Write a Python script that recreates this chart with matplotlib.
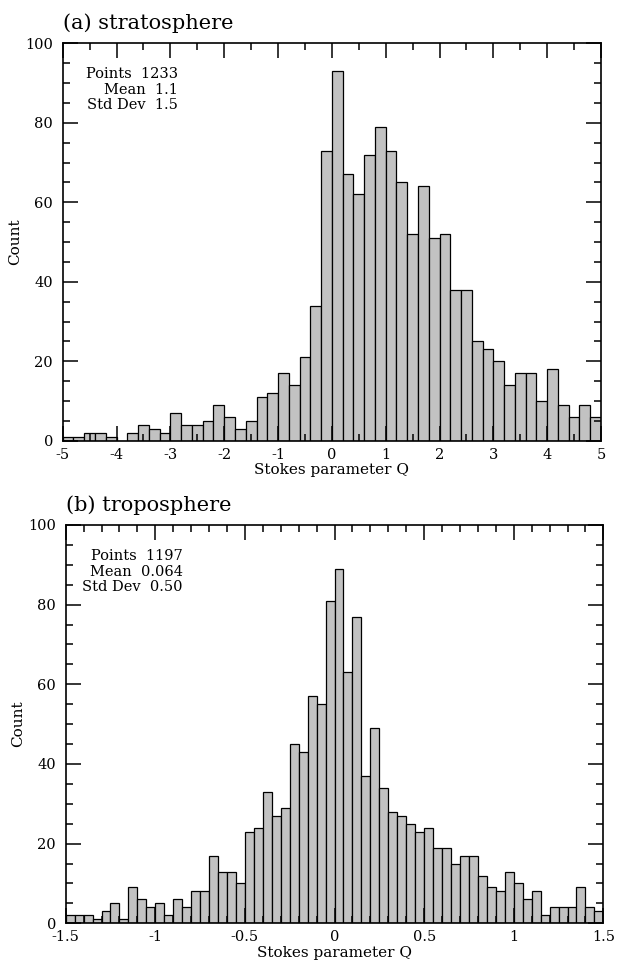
import numpy as np
import matplotlib
matplotlib.use("Agg")
import matplotlib.pyplot as plt
from matplotlib.ticker import MultipleLocator

# (a) stratosphere: 50 bins of width 0.2 from -5 to 5
strat_counts = [1, 1, 2, 2, 1, 0, 2, 4, 3, 2,
                7, 4, 4, 5, 9, 6, 3, 5, 11, 12,
                17, 14, 21, 34, 73, 93, 67, 62, 72, 79,
                73, 65, 52, 64, 51, 52, 38, 38, 25, 23,
                20, 14, 17, 17, 10, 18, 9, 6, 9, 6]
strat_range = (-5, 5)
strat_stats = "Points  1233\nMean  1.1\nStd Dev  1.5"

# (b) troposphere: 60 bins of width 0.05 from -1.5 to 1.5
trop_counts = [2, 2, 2, 1, 3, 5, 1, 9, 6, 4,
               5, 2, 6, 4, 8, 8, 17, 13, 13, 10,
               23, 24, 33, 27, 29, 45, 43, 57, 55, 81,
               89, 63, 77, 37, 49, 34, 28, 27, 25, 23,
               24, 19, 19, 15, 17, 17, 12, 9, 8, 13,
               10, 6, 8, 2, 4, 4, 4, 9, 4, 3]
trop_range = (-1.5, 1.5)
trop_stats = "Points  1197\nMean  0.064\nStd Dev  0.50"

plt.rcParams['font.family'] = ['DejaVu Serif']

fig = plt.figure(figsize=(6.18, 9.64), dpi=100)


def draw_hist(rect, counts, xr, major, minor, stats, title, text_xy):
    ax = fig.add_axes(rect)
    edges = np.linspace(xr[0], xr[1], len(counts) + 1)
    ax.bar(edges[:-1], counts, width=np.diff(edges), align='edge',
           color='#c2c2c2', edgecolor='black', linewidth=0.9)
    ax.set_xlim(xr)
    ax.set_ylim(0, 100)
    ax.xaxis.set_major_locator(MultipleLocator(major))
    ax.xaxis.set_minor_locator(MultipleLocator(minor))
    ax.yaxis.set_major_locator(MultipleLocator(20))
    ax.yaxis.set_minor_locator(MultipleLocator(5))
    ax.tick_params(which='both', direction='in', top=True, right=True,
                   width=1.1, labelsize=10.5)
    ax.tick_params(which='major', length=11)
    ax.tick_params(which='minor', length=5)
    ax.tick_params(axis='y', pad=7)
    ax.tick_params(axis='x', pad=5)
    for s in ax.spines.values():
        s.set_linewidth(1.2)
    ax.set_ylabel('Count', fontsize=11, labelpad=2)
    ax.set_xlabel('Stokes parameter Q', fontsize=11, labelpad=1)
    ax.text(text_xy[0], text_xy[1], stats, transform=ax.transAxes,
            ha='right', va='top', multialignment='right',
            fontsize=10.5, linespacing=1.15)
    ax.text(0.0, 1.025, title, transform=ax.transAxes, ha='left',
            va='bottom', fontsize=15)
    ax.xaxis.set_major_formatter(
        matplotlib.ticker.FuncFormatter(lambda v, p: ('%g' % v)))
    return ax


draw_hist([0.1015, 0.5428, 0.871, 0.4123], strat_counts, strat_range,
          1, 0.5, strat_stats, '(a) stratosphere', (0.214, 0.94))
draw_hist([0.1063, 0.0422, 0.870, 0.4132], trop_counts, trop_range,
          0.5, 0.1, trop_stats, '(b) troposphere', (0.218, 0.94))

fig.savefig('out.png', dpi=100)
